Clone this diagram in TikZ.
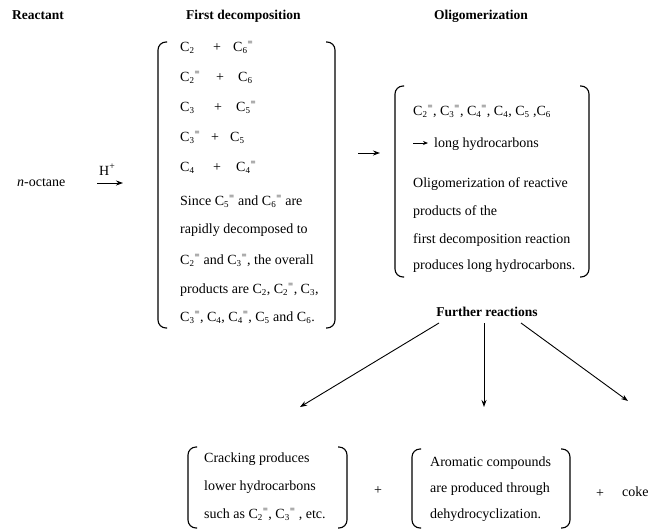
\documentclass[tikz,border=0pt]{standalone}
\usepackage{fontspec}
\setmainfont{Liberation Serif}
\usetikzlibrary{arrows.meta}
\newcommand{\ssz}{\fontsize{9}{9}\selectfont}
\newcommand{\Cs}[1]{C\ensuremath{_{\hbox{\ssz #1}}}}
\newcommand{\Cd}[1]{C\ensuremath{_{\hbox{\ssz #1}}{}^{\hbox{\ssz =}}}}
% left x, right x, top y, bottom y
\newcommand{\brkpair}[4]{%
  \draw[brkline] (#1+9,#3) -- (#1,#3) -- (#1,#4) -- (#1+9,#4);
  \draw[brkline] (#2-9,#3) -- (#2,#3) -- (#2,#4) -- (#2-9,#4);}
\begin{document}
\begin{tikzpicture}[x=1pt,y=-1pt,
  txt/.style={anchor=base west,inner sep=0pt,font=\fontsize{14}{14}\selectfont},
  ctxt/.style={anchor=base,inner sep=0pt,font=\fontsize{14}{14}\selectfont},
  hdr/.style={anchor=base west,inner sep=0pt,font=\fontsize{13.5}{13.5}\selectfont\bfseries},
  brkline/.style={line width=1.1pt,rounded corners=8pt},
  arr/.style={line width=0.9pt,-{Stealth[length=7pt,width=5pt]}}]
\useasboundingbox (0,0) rectangle (664,531);

% headers
\node[hdr] (hreact) at (12,19) {Reactant};
\node[hdr] (hfirst) at (186,19) {First decomposition};
\node[hdr] (holig) at (434,19) {Oligomerization};

% reactant
\node[txt] (oct) at (17,186) {\textit{n}-octane};
\node[txt] (hplus) at (99,175) {H\textsuperscript{+}};
\coordinate (ra) at (97,183);
\coordinate (rb) at (123,183);
\draw[arr] (ra) -- (rb);

% first decomposition box
\brkpair{158}{335}{42}{328}
\node[txt] (a1) at (180,51) {\Cs{2}};
\node[txt] (p1) at (213,51) {+};
\node[txt] (b1) at (233,51) {\Cd{6}};
\node[txt] (a2) at (180,81) {\Cd{2}};
\node[txt] (p2) at (216,81) {+};
\node[txt] (b2) at (238,81) {\Cs{6}};
\node[txt] (a3) at (180,111) {\Cs{3}};
\node[txt] (p3) at (214,111) {+};
\node[txt] (b3) at (236,111) {\Cd{5}};
\node[txt] (a4) at (180,141) {\Cd{3}};
\node[txt] (p4) at (211,141) {+};
\node[txt] (b4) at (230,141) {\Cs{5}};
\node[txt] (a5) at (180,171) {\Cs{4}};
\node[txt] (p5) at (213,171) {+};
\node[txt] (b5) at (236,171) {\Cd{4}};
\node[txt] (s1) at (180,205) {Since \Cd{5} and \Cd{6} are};
\node[txt] (s2) at (180,233) {rapidly decomposed to};
\node[txt] (s3) at (180,264) {\Cd{2} and \Cd{3}, the overall};
\node[txt] (s4) at (180,293) {products are \Cs{2}, \Cd{2}, \Cs{3},};
\node[txt] (s5) at (180,321) {\Cd{3}, \Cs{4}, \Cd{4}, \Cs{5} and \Cs{6}.};

% arrow to oligomerization
\coordinate (ma) at (358,153);
\coordinate (mb) at (380,153);
\draw[arr] (ma) -- (mb);

% oligomerization box
\brkpair{395}{589}{86}{277}
\node[txt] (o1) at (413,115) {\Cd{2}, \Cd{3}, \Cd{4}, \Cs{4}, \Cs{5} ,\Cs{6}};
\coordinate (oa) at (413,143);
\coordinate (ob) at (428,143);
\draw[line width=0.9pt,-{Stealth[length=5pt,width=4pt]}] (oa) -- (ob);
\node[txt] (o2) at (434,147) {long hydrocarbons};
\node[txt] (o3) at (413,187) {Oligomerization of reactive};
\node[txt] (o4) at (413,215) {products of the};
\node[txt] (o5) at (413,243) {first decomposition reaction};
\node[txt] (o6) at (413,269) {produces long hydrocarbons.};

% further reactions
\node[hdr,anchor=base] (fr) at (487,316) {Further reactions};
\coordinate (fl) at (439,323);
\coordinate (fm) at (484,323);
\coordinate (fr2) at (521,323);
\coordinate (tl) at (300,407);
\coordinate (tm) at (484,407);
\coordinate (tr) at (628,401);
\draw[arr] (fl) -- (tl);
\draw[arr] (fm) -- (tm);
\draw[arr] (fr2) -- (tr);

% bottom boxes
\brkpair{188}{347}{447}{528}
\node[txt] (c1) at (204,462) {Cracking produces};
\node[txt] (c2) at (204,490) {lower hydrocarbons};
\node[txt] (c3) at (204,518) {such as \Cd{2}, \Cd{3} , etc.};
\node[ctxt] (plus1) at (378,494) {+};
\brkpair{412}{570}{449}{528}
\node[txt] (d1) at (430,466) {Aromatic compounds};
\node[txt] (d2) at (430,492) {are produced through};
\node[txt] (d3) at (430,518) {dehydrocyclization.};
\node[ctxt] (plus2) at (600,497) {+};
\node[txt] (coke) at (622,496) {coke};
\end{tikzpicture}
\end{document}
